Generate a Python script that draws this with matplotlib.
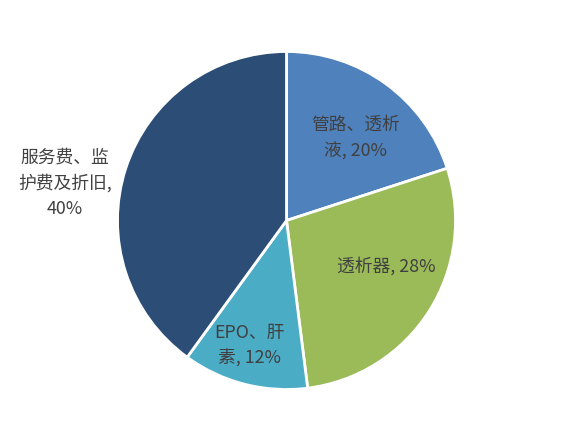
import matplotlib.pyplot as plt

plt.rcParams['font.family'] = ['Noto Sans CJK SC', 'DejaVu Sans']

labels = ['管路、透析\n液, 20%', '透析器, 28%', 'EPO、肝\n素, 12%', '服务费、监\n护费及折旧,\n40%']
shares = [20, 28, 12, 40]
colors = ['#4F81BD', '#9BBB59', '#4BACC6', '#2C4D75']

# label centres in units of the pie radius
label_pos = [(0.41, 0.49), (0.59, -0.27), (-0.22, -0.74), (-1.31, 0.22)]

fig = plt.figure(figsize=(5.73, 4.41), dpi=100)
ax = fig.add_axes([0, 0, 1, 1])
r_px = 169

wedges, texts = ax.pie(shares, labels=labels, colors=colors, startangle=90,
                       counterclock=False, radius=1,
                       wedgeprops=dict(edgecolor='white', linewidth=2),
                       textprops=dict(fontsize=12.8, color='#404040'))
ax.set_xlim(-286.5 / r_px, 286.5 / r_px)
ax.set_ylim(-220.5 / r_px, 220.5 / r_px)
ax.set_aspect('auto')
ax.axis('off')

for t, (x, y) in zip(texts, label_pos):
    t.set_position((x, y))
    t.set_ha('center')
    t.set_va('center')
    t.set_multialignment('center')
    t.set_linespacing(1.5)

fig.savefig('out.png', dpi=100)
